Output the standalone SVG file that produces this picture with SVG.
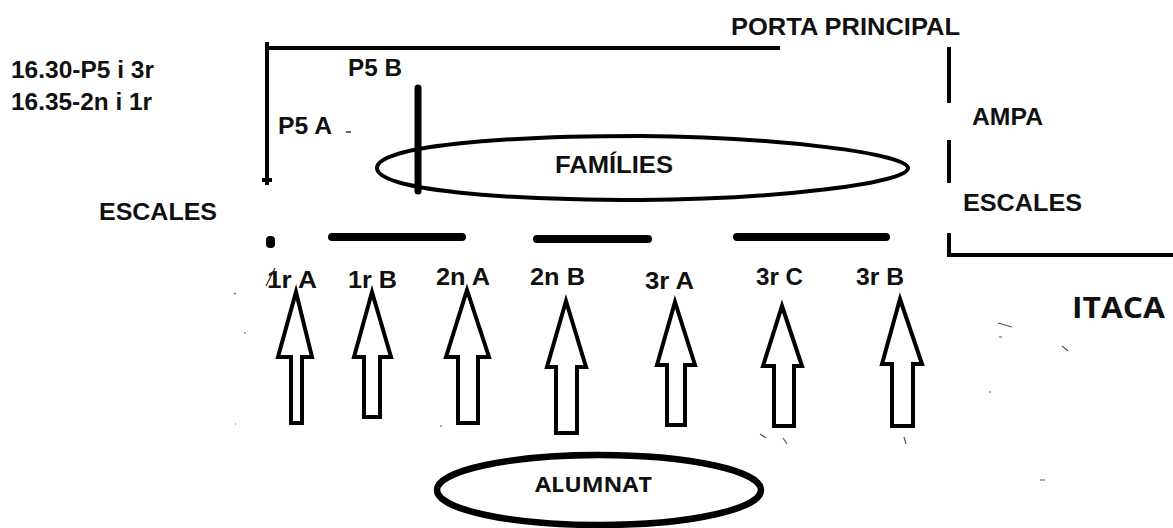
<svg xmlns="http://www.w3.org/2000/svg" width="1173" height="528" viewBox="0 0 1173 528">
<style>
text{font-family:"Liberation Sans",Arial,sans-serif;font-weight:bold;fill:#111;font-size:24px}
.big{font-size:29px;font-family:"Open Sans","Liberation Sans",sans-serif}
.sm{font-size:21px;font-family:"Open Sans","Liberation Sans",sans-serif}
.ln{stroke:#000;stroke-width:4;fill:none}
.dash{stroke:#000;stroke-width:8;stroke-linecap:round;fill:none}
.arrow{fill:#fff;stroke:#000;stroke-width:4;stroke-linejoin:miter}
.ell{fill:none;stroke:#000}
.noise{stroke:#555;stroke-width:1.2;fill:none}
</style>
<rect width="1173" height="528" fill="#fff"/>

<g id="schedule">
<text x="11" y="78" textLength="143" lengthAdjust="spacingAndGlyphs">16.30-P5 i 3r</text>
<text x="11" y="110" textLength="141" lengthAdjust="spacingAndGlyphs">16.35-2n i 1r</text>
</g>

<g id="walls">
<path class="ln" d="M267,42 L267,185 M267,48 L780,48"/>
<path class="ln" d="M262,180 L272,180" stroke-width="1.5"/>
<path class="ln" d="M949,47 L949,103 M949,140 L949,183 M949,233 L949,255 L1173,255" stroke-width="5"/>
<rect x="266" y="236" width="9" height="12" rx="4" fill="#000"/>
<path class="dash" d="M332,237 L462,237 M537,239 L648,239 M737,237 L886,237"/>
<path d="M346,132 L351,132" stroke="#333" stroke-width="1.5"/>
</g>

<g id="porta-principal"><text x="731" y="35" textLength="229" lengthAdjust="spacingAndGlyphs">PORTA PRINCIPAL</text></g>
<g id="p5b"><text x="348" y="76" textLength="54" lengthAdjust="spacingAndGlyphs">P5 B</text></g>
<g id="p5a"><text x="278" y="134" textLength="54" lengthAdjust="spacingAndGlyphs">P5 A</text></g>
<g id="escales-left"><text x="99" y="220" textLength="118" lengthAdjust="spacingAndGlyphs">ESCALES</text></g>
<g id="ampa"><text x="972" y="125" textLength="71" lengthAdjust="spacingAndGlyphs">AMPA</text></g>
<g id="escales-right"><text x="963" y="211" textLength="119" lengthAdjust="spacingAndGlyphs">ESCALES</text></g>
<g id="itaca"><text class="big" x="1072" y="318" textLength="93" lengthAdjust="spacingAndGlyphs">ITACA</text></g>

<g id="families">
<path class="ell" stroke-width="4" d="M377,168 C377,146 500,136 640,136 C780,137 908,154 908,168 C908,183 780,199 640,200 C500,200 377,190 377,168 Z"/>
<text x="555" y="173" textLength="118" lengthAdjust="spacingAndGlyphs">FAMÍLIES</text>
</g>
<path d="M418,88 L418,191" stroke="#000" stroke-width="7" stroke-linecap="round"/>

<g id="alumnat">
<ellipse class="ell" cx="599" cy="490" rx="162" ry="35" stroke-width="6.5"/>
<text class="sm" x="535" y="492" textLength="117" lengthAdjust="spacingAndGlyphs">ALUMNAT</text>
</g>

<g id="class-labels">
<text x="267" y="288" textLength="50" lengthAdjust="spacingAndGlyphs">1r A</text>
<path d="M266,286 L275,268" stroke="#333" stroke-width="1.2"/>
<text x="348" y="288" textLength="49" lengthAdjust="spacingAndGlyphs">1r B</text>
<text x="436" y="285" textLength="54" lengthAdjust="spacingAndGlyphs">2n A</text>
<text x="530" y="285" textLength="55" lengthAdjust="spacingAndGlyphs">2n B</text>
<text x="645" y="289" textLength="49" lengthAdjust="spacingAndGlyphs">3r A</text>
<text x="756" y="285" textLength="47" lengthAdjust="spacingAndGlyphs">3r C</text>
<text x="856" y="285" textLength="48" lengthAdjust="spacingAndGlyphs">3r B</text>
</g>

<g id="connectors">
<path class="arrow" d="M296,292 L312,357 L302,357 L302,423 L291,423 L291,357 L278,357 Z"/>
<path class="arrow" d="M372,292 L391,357 L380,357 L380,417 L364,417 L364,357 L354,357 Z"/>
<path class="arrow" d="M467,290 L489,357 L478,357 L478,423 L458,423 L458,357 L446,357 Z"/>
<path class="arrow" d="M566,301 L586,367 L577,367 L577,433 L556,433 L556,367 L547,367 Z"/>
<path class="arrow" d="M675,302 L695,365 L685,365 L685,425 L667,425 L667,365 L657,365 Z"/>
<path class="arrow" d="M782,306 L802,366 L794,366 L794,426 L774,426 L774,366 L763,366 Z"/>
<path class="arrow" d="M900,299 L922,364 L913,364 L913,426 L892,426 L892,364 L882,364 Z"/>
</g>

<g id="marks">
<path class="noise" d="M998,323 L1012,327 M999,337 L1002,337 M1062,346 L1068,351 M989,392 L991,392 M783,438 L787,444 M904,437 L906,444 M234,294 L236,293 M244,333 L246,333 M235,424 L236,424 M440,426 L442,426 M760,434 L766,438 M1040,480 L1045,480"/>
</g>
</svg>
